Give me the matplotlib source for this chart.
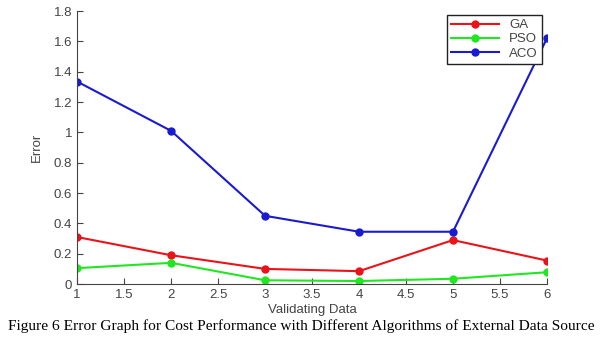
import numpy as np
import matplotlib
matplotlib.use("Agg")
import matplotlib.pyplot as plt

x = [1, 2, 3, 4, 5, 6]
ga = [0.31, 0.19, 0.10, 0.085, 0.29, 0.155]
pso = [0.105, 0.14, 0.025, 0.02, 0.035, 0.078]
aco = [1.335, 1.01, 0.45, 0.345, 0.345, 1.62]

plt.rcParams['font.family'] = 'Liberation Sans'
grey = '#444444'

fig = plt.figure(figsize=(6.03, 3.46), dpi=100)
ax = fig.add_axes([0.128, 0.179, 0.779, 0.789])

ax.plot(x, ga, color='#e8141a', marker='o', markersize=5, lw=1.5, label='GA')
ax.plot(x, pso, color='#22e622', marker='o', markersize=5, lw=1.5, label='PSO')
ax.plot(x, aco, color='#1a1ad0', marker='o', markersize=5, lw=1.5, label='ACO')

ax.set_xlim(1, 6)
ax.set_ylim(0, 1.8)
ax.set_xticks(np.arange(1, 6.01, 0.5))
ax.set_xticklabels(['1', '1.5', '2', '2.5', '3', '3.5', '4', '4.5', '5', '5.5', '6'])
ax.set_yticks(np.arange(0, 1.81, 0.2))
ax.set_yticklabels(['0', '0.2', '0.4', '0.6', '0.8', '1', '1.2', '1.4', '1.6', '1.8'])
ax.tick_params(direction='in', length=4, colors=grey, labelsize=9.5)
ax.spines['top'].set_visible(False)
ax.spines['right'].set_visible(False)
ax.spines['left'].set_color(grey)
ax.spines['bottom'].set_color(grey)
ax.set_xlabel('Validating Data', color=grey, fontsize=9.5, labelpad=2)
ax.set_ylabel('Error', color=grey, fontsize=9.5, labelpad=8)

leg = ax.legend(loc='upper right', bbox_to_anchor=(1.003, 1.01), fontsize=9.5,
                fancybox=False, framealpha=1, handlelength=3.6, borderpad=0.3,
                labelspacing=0.15)
leg.get_frame().set_edgecolor('#222222')
for t in leg.get_texts():
    t.set_color(grey)

fig.text(0.5, 0.057, 'Figure 6 Error Graph for Cost Performance with Different Algorithms of External Data Source',
         ha='center', va='center', fontsize=11.1, family='Liberation Serif')

plt.savefig("out.png", dpi=100)
